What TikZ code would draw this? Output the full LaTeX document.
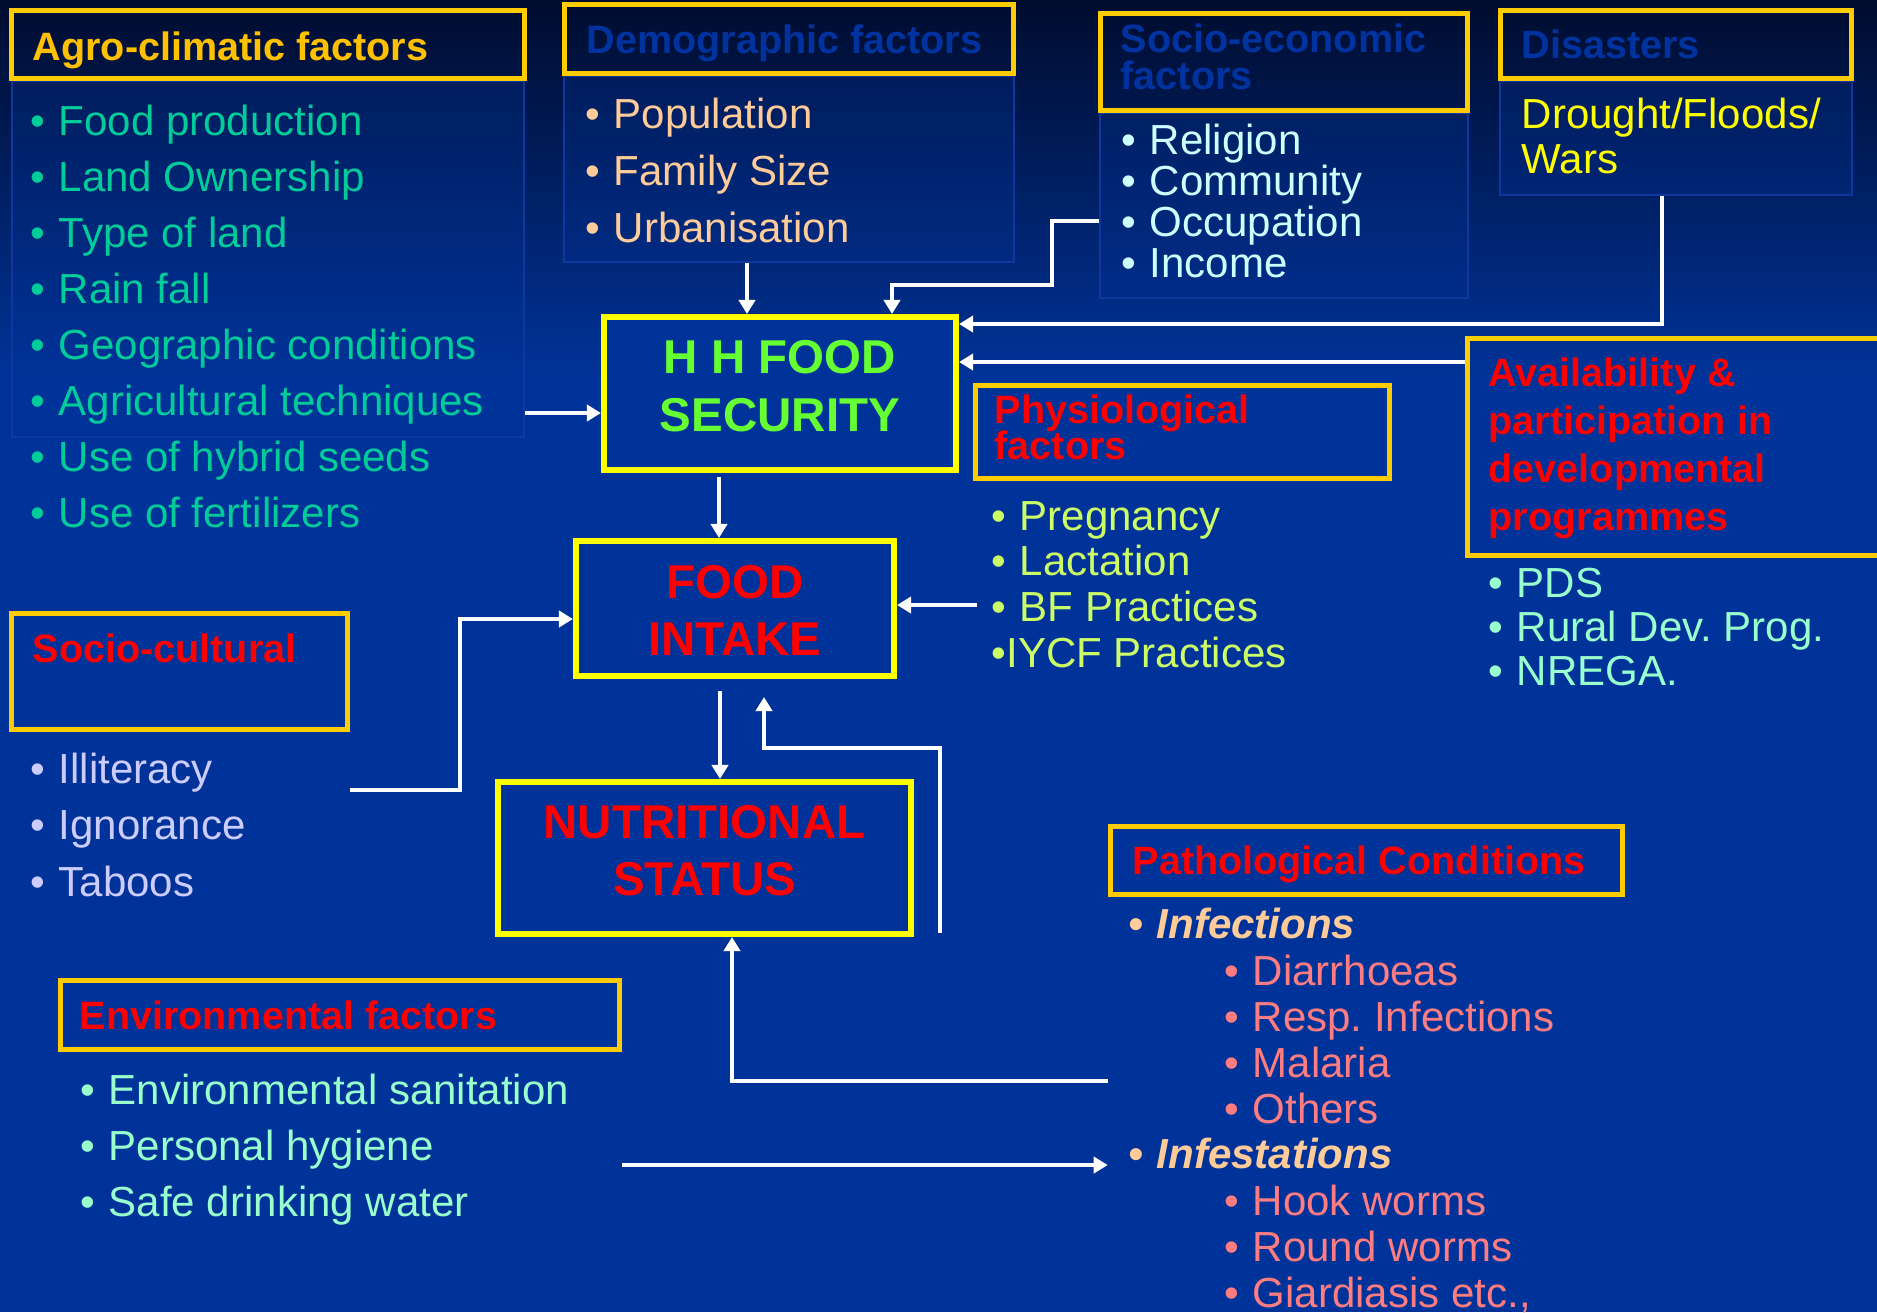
\documentclass[tikz,border=0pt]{standalone}
\usepackage{fontspec}
\setmainfont{Liberation Sans}
\usetikzlibrary{arrows.meta, positioning}
\frenchspacing

\definecolor{slideblue}{RGB}{0,51,153}
\definecolor{slidenavy}{RGB}{0,12,46}
\definecolor{framegold}{RGB}{255,204,0}
\definecolor{frameyellow}{RGB}{255,255,0}
\definecolor{agrotitle}{RGB}{255,192,0}
\definecolor{deepblue}{RGB}{0,51,160}
\definecolor{agrogreen}{RGB}{0,204,153}
\definecolor{peach}{RGB}{255,204,153}
\definecolor{icecyan}{RGB}{204,255,255}
\definecolor{limegreen}{RGB}{204,255,102}
\definecolor{mint}{RGB}{153,255,204}
\definecolor{lavender}{RGB}{204,204,255}
\definecolor{salmon}{RGB}{255,124,128}
\definecolor{hhgreen}{RGB}{102,255,51}
\definecolor{panelline}{RGB}{14,56,160}

\newcommand{\bul}{\makebox[8pt][l]{•}}

\tikzset{
  headbox/.style={draw=framegold, line width=1.5pt, inner sep=0pt},
  focusbox/.style={draw=frameyellow, line width=1.8pt, fill=slideblue, inner sep=0pt},
  panel/.style={draw=panelline, line width=0.4pt, fill=slideblue, fill opacity=0.3, inner sep=0pt},
  headtext/.style={anchor=base west, inner sep=0pt, font=\fontsize{11.25}{13}\selectfont\bfseries},
  listitem/.style={anchor=base west, inner sep=0pt, font=\fontsize{11.95}{14}\selectfont},
  bigtext/.style={anchor=base, inner sep=0pt, font=\fontsize{13.5}{16}\selectfont\bfseries},
  flow/.style={draw=white, line width=1.1pt, -{Triangle[length=4pt,width=4.6pt]}},
}

\begin{document}
\begin{tikzpicture}[x=0.01cm, y=-0.01cm]
  \clip (0,0) rectangle (1877,1312);
  % background
  \shade[top color=slidenavy, bottom color=slideblue] (0,0) rectangle (1877,380);
  \fill[slideblue] (0,379) rectangle (1877,1312);

  % panels under the top headers
  \node[panel, minimum width=5.12cm, minimum height=3.56cm] (agropanel) at (268,259) {};
  \node[panel, minimum width=4.5cm, minimum height=1.86cm] (demopanel) at (789,169) {};
  \node[panel, minimum width=3.68cm, minimum height=1.85cm] (socpanel) at (1284,205.5) {};
  \node[panel, minimum width=3.52cm, minimum height=1.14cm] (disapanel) at (1676,138) {};

  % header boxes
  \node[headbox, minimum width=5.13cm, minimum height=0.68cm] (agrohead) at (268,44.5) {};
  \node[headbox, minimum width=4.49cm, minimum height=0.69cm] (demohead) at (789,39) {};
  \node[headbox, minimum width=3.67cm, minimum height=0.97cm] (sochead) at (1284,62) {};
  \node[headbox, minimum width=3.51cm, minimum height=0.68cm] (disahead) at (1676,44.5) {};
  \node[headbox, minimum width=4.14cm, minimum height=0.93cm] (physhead) at (1182.5,432) {};
  \node[headbox, minimum width=4.225cm, minimum height=2.17cm] (availhead) at (1679,447) {};
  \node[headbox, minimum width=3.36cm, minimum height=1.16cm] (culthead) at (179.5,671.5) {};
  \node[headbox, minimum width=5.59cm, minimum height=0.69cm] (envhead) at (340,1015) {};
  \node[headbox, minimum width=5.12cm, minimum height=0.68cm] (pathhead) at (1366.5,860.5) {};

  % header titles
  \node[headtext, text=agrotitle] (agrotitle) at (32,60) {Agro-climatic factors};
  \node[headtext, text=deepblue] (demotitle) at (586,53) {Demographic factors};
  \node[headtext, text=deepblue] (soctitlea) at (1120,52) {Socio-economic};
  \node[headtext, text=deepblue] (soctitleb) at (1120,89) {factors};
  \node[headtext, text=deepblue] (disatitle) at (1521,58) {Disasters};
  \node[headtext, text=red] (phystitlea) at (994,423) {Physiological};
  \node[headtext, text=red] (phystitleb) at (994,459) {factors};
  \foreach \ln [count=\k from 0] in {Availability \&, participation in, developmental, programmes}
    \node[headtext, text=red] (availtitle\k) at (1488,386+48*\k) {\ln};
  \node[headtext, text=red] (culttitle) at (32,662) {Socio-cultural};
  \node[headtext, text=red] (envtitle) at (79,1029) {Environmental factors};
  \node[headtext, text=red] (pathtitle) at (1132,874) {Pathological Conditions};

  % lists
  \foreach \itm [count=\k from 0] in {Food production, Land Ownership, Type of land, Rain fall, Geographic conditions, Agricultural techniques, Use of hybrid seeds, Use of fertilizers}
    \node[listitem, text=agrogreen] (agro\k) at (30,135+56*\k) {\bul\itm};
  \foreach \itm [count=\k from 0] in {Population, Family Size, Urbanisation}
    \node[listitem, text=peach] (demo\k) at (585,128+57*\k) {\bul\itm};
  \foreach \itm [count=\k from 0] in {Religion, Community, Occupation, Income}
    \node[listitem, text=icecyan] (soc\k) at (1121,154+41*\k) {\bul\itm};
  \node[listitem, text=frameyellow] (disaster1) at (1521,128) {Drought/Floods/};
  \node[listitem, text=frameyellow] (disaster2) at (1521,173) {Wars};
  \foreach \itm [count=\k from 0] in {Pregnancy, Lactation, BF Practices}
    \node[listitem, text=limegreen] (phys\k) at (991,530+45.7*\k) {\bul\itm};
  \node[listitem, text=limegreen] (phys3) at (991,667) {•IYCF Practices};
  \foreach \itm [count=\k from 0] in {PDS, Rural Dev. Prog., NREGA.}
    \node[listitem, text=mint] (avail\k) at (1488,597+44*\k) {\bul\itm};
  \foreach \itm [count=\k from 0] in {Illiteracy, Ignorance, Taboos}
    \node[listitem, text=lavender] (cult\k) at (30,783+56.5*\k) {\bul\itm};
  \foreach \itm [count=\k from 0] in {Environmental sanitation, Personal hygiene, Safe drinking water}
    \node[listitem, text=mint] (env\k) at (80,1104+56*\k) {\bul\itm};
  \node[listitem, text=peach, font=\fontsize{11.95}{14}\selectfont\bfseries\itshape] (infect) at (1128,938) {\bul Infections};
  \foreach \itm [count=\k from 0] in {Diarrhoeas, Resp. Infections, Malaria, Others}
    \node[listitem, text=salmon] (infect\k) at (1224,985+46*\k) {\bul\itm};
  \node[listitem, text=peach, font=\fontsize{11.95}{14}\selectfont\bfseries\itshape] (infest) at (1128,1168) {\bul Infestations};
  \foreach \itm [count=\k from 0] in {Hook worms, Round worms, {Giardiasis etc.,}}
    \node[listitem, text=salmon] (infest\k) at (1224,1215+46*\k) {\bul\itm};

  % central boxes
  \node[focusbox, minimum width=3.516cm, minimum height=1.526cm] (hhfood) at (780,393.5) {};
  \node[bigtext, text=hhgreen] (hhline1) at (780,373) {H H FOOD};
  \node[bigtext, text=hhgreen] (hhline2) at (780,431) {SECURITY};
  \node[focusbox, minimum width=3.176cm, minimum height=1.346cm] (intake) at (735,608.5) {};
  \node[bigtext, text=red] (intakeline1) at (735,598) {FOOD};
  \node[bigtext, text=red] (intakeline2) at (735,655) {INTAKE};
  \node[focusbox, minimum width=4.126cm, minimum height=1.516cm] (nutri) at (704.5,858) {};
  \node[bigtext, text=red] (nutriline1) at (704.5,838) {NUTRITIONAL};
  \node[bigtext, text=red] (nutriline2) at (704.5,895) {STATUS};

  % connectors
  \coordinate (bfend) at (977,605);
  \coordinate (loopfoot) at (940,933);
  \draw[flow] (agropanel.east |- 0,413) -- (hhfood.west |- 0,413);
  \draw[flow] (demopanel.south -| 747,0) -- (hhfood.north -| 747,0);
  \draw[flow] (socpanel.west |- 0,221) -| (1052,285) -| (hhfood.north -| 892,0);
  \draw[flow] (disapanel.south -| 1662,0) |- (hhfood.east |- 0,324);
  \draw[flow] (availhead.west |- 0,362) -- (hhfood.east |- 0,362);
  \draw[flow, shorten <=0.04cm] (hhfood.south -| 719,0) -- (intake.north -| 719,0);
  \draw[flow] (bfend) -- (intake.east |- bfend);
  \draw[flow] (culthead.east |- 0,790) -| (460,619) -- (intake.west |- 0,619);
  \draw[flow, shorten <=0.12cm] (intake.south -| 720,0) -- (nutri.north -| 720,0);
  \draw[flow, shorten >=0.18cm] (loopfoot) |- (764,748) -- (intake.south -| 764,0);
  \draw[flow] (pathhead.west |- 0,1081) -| (nutri.south -| 732,0);
  \draw[flow] (envhead.east |- 0,1165) -- (pathhead.west |- 0,1165);
\end{tikzpicture}
\end{document}
